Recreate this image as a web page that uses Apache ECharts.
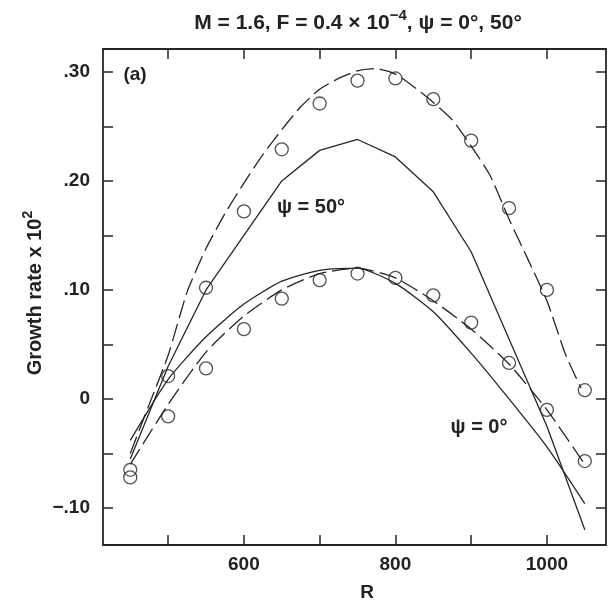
<!DOCTYPE html>
<html>
<head>
<meta charset="utf-8">
<script src="https://cdn.jsdelivr.net/npm/echarts@6/dist/echarts.min.js"></script>
<style>
html,body{margin:0;padding:0;background:#fff;}
#chart{width:608px;height:603px;}
</style>
</head>
<body>
<div id="chart"></div>
<script>
// ---- data ----
const circleR = [450, 500, 550, 600, 650, 700, 750, 800, 850, 900, 950, 1000, 1050];
const circles50 = [-0.065, 0.021, 0.102, 0.172, 0.229, 0.271, 0.292, 0.294, 0.275, 0.237, 0.175, 0.100, 0.008];
const circles0 = [-0.072, -0.016, 0.028, 0.064, 0.092, 0.109, 0.115, 0.111, 0.095, 0.070, 0.033, -0.010, -0.057];

const dash50R = [450, 475, 500, 525, 550, 575, 600, 625, 650, 675, 700, 725, 750, 775, 800, 825, 850, 875, 900, 925, 950, 975, 1000, 1025, 1045];
const dash50 = [-0.050, -0.005, 0.040, 0.098, 0.138, 0.170, 0.198, 0.224, 0.247, 0.268, 0.284, 0.294, 0.301, 0.303, 0.298, 0.286, 0.272, 0.256, 0.232, 0.205, 0.165, 0.128, 0.090, 0.040, 0.010];

const solidR = [450, 500, 550, 600, 650, 700, 750, 800, 850, 900, 950, 1000, 1050];
const solid50 = [-0.055, 0.030, 0.100, 0.150, 0.200, 0.228, 0.238, 0.222, 0.190, 0.135, 0.055, -0.025, -0.120];
const solid0 = [-0.038, 0.018, 0.057, 0.087, 0.108, 0.118, 0.120, 0.106, 0.080, 0.042, 0.000, -0.044, -0.096];

const dash0R = [450, 500, 550, 600, 650, 700, 750, 800, 850, 900, 950, 1000, 1050];
const dash0 = [-0.060, -0.005, 0.043, 0.076, 0.100, 0.115, 0.120, 0.111, 0.090, 0.064, 0.032, -0.010, -0.060];

const xTicks = [500, 600, 700, 800, 900, 1000];
const xTickLabels = [600, 800, 1000];
const yTicks = [-0.10, -0.05, 0, 0.05, 0.10, 0.15, 0.20, 0.25, 0.30];
const yTickLabels = [-0.10, 0, 0.10, 0.20, 0.30];

const titleText = ['M = 1.6, F = 0.4 \u00d7 10', '\u22124', ', \u03c8 = 0\u00b0, 50\u00b0'];
const yName = ['Growth rate x 10', '2'];
const annotations = ['(a)', '\u03c8 = 50\u00b0', '\u03c8 = 0\u00b0', 'R'];

// ---- build ----
const zip = (xs, ys) => xs.map((x, i) => [x, ys[i]]);
const INK = '#262626';
const FONT = '"Liberation Sans", Arial, Helvetica, sans-serif';

function yFmt(v) {
  if (Math.abs(v) < 1e-9) return '0';
  const s = '.' + String(Math.round(Math.abs(v) * 100)).padStart(2, '0');
  return v < 0 ? '\u2212' + s : s;
}

const axisLine = { show: true, onZero: false, lineStyle: { color: INK, width: 1.8 } };
const tickStyle = { color: INK, width: 1.5 };

const chart = echarts.init(document.getElementById('chart'));
const option = {
  animation: false,
  backgroundColor: '#ffffff',
  grid: { left: 103, right: 2, top: 49, bottom: 58 },
  xAxis: [
    { type: 'value', min: 414, max: 1078, position: 'bottom',
      axisLine: axisLine,
      axisTick: { show: true, inside: true, length: 10, customValues: xTicks, lineStyle: tickStyle },
      axisLabel: { show: true, customValues: xTickLabels, formatter: v => String(v), margin: 10, color: '#222', fontSize: 19, fontWeight: 'bold', fontFamily: FONT },
      splitLine: { show: false } },
    { type: 'value', min: 414, max: 1078, position: 'top',
      axisLine: axisLine,
      axisTick: { show: true, inside: true, length: 10, customValues: xTicks, lineStyle: tickStyle },
      axisLabel: { show: false },
      splitLine: { show: false } }
  ],
  yAxis: [
    { type: 'value', min: -0.134, max: 0.321, position: 'left',
      axisLine: axisLine,
      axisTick: { show: true, inside: true, length: 10, customValues: yTicks, lineStyle: tickStyle },
      axisLabel: { show: true, customValues: yTickLabels, formatter: yFmt, margin: 13, color: '#222', fontSize: 19, fontWeight: 'bold', fontFamily: FONT },
      splitLine: { show: false } },
    { type: 'value', min: -0.134, max: 0.321, position: 'right',
      axisLine: axisLine,
      axisTick: { show: true, inside: true, length: 10, customValues: yTicks, lineStyle: tickStyle },
      axisLabel: { show: false },
      splitLine: { show: false } }
  ],
  series: [
    { type: 'line', name: 'dash50', data: zip(dash50R, dash50), showSymbol: false, smooth: 0.2,
      lineStyle: { color: INK, width: 1.3, type: [18, 6] } },
    { type: 'line', name: 'solid50', data: zip(solidR, solid50), showSymbol: false,
      lineStyle: { color: INK, width: 1.3 } },
    { type: 'line', name: 'solid0', data: zip(solidR, solid0), showSymbol: false, smooth: 0.2,
      lineStyle: { color: INK, width: 1.3 } },
    { type: 'line', name: 'dash0', data: zip(dash0R, dash0), showSymbol: false, smooth: 0.2,
      lineStyle: { color: INK, width: 1.3, type: [18, 6] } },
    { type: 'scatter', name: 'c50', data: zip(circleR, circles50), symbol: 'circle', symbolSize: 13,
      itemStyle: { color: 'rgba(0,0,0,0)', borderColor: INK, borderWidth: 1.3 } },
    { type: 'scatter', name: 'c0', data: zip(circleR, circles0), symbol: 'circle', symbolSize: 13,
      itemStyle: { color: 'rgba(0,0,0,0)', borderColor: INK, borderWidth: 1.3 } }
  ],
  graphic: [
    { type: 'text', x: 358, y: 21,
      style: { text: '{a|' + titleText[0] + '}{b|' + titleText[1] + '}{a|' + titleText[2] + '}',
        align: 'center', verticalAlign: 'middle', fill: '#222',
        rich: {
          a: { fontSize: 21, fontWeight: 'bold', fontFamily: FONT, lineHeight: 25, verticalAlign: 'bottom', fill: '#222' },
          b: { fontSize: 15, fontWeight: 'bold', fontFamily: FONT, lineHeight: 15, verticalAlign: 'top', fill: '#222' }
        } } },
    { type: 'text', x: 33, y: 293, rotation: Math.PI / 2,
      style: { text: '{a|' + yName[0] + '}{b|' + yName[1] + '}',
        align: 'center', verticalAlign: 'middle', fill: '#222',
        rich: {
          a: { fontSize: 20, fontWeight: 'bold', fontFamily: FONT, lineHeight: 24, verticalAlign: 'bottom', fill: '#222' },
          b: { fontSize: 14, fontWeight: 'bold', fontFamily: FONT, lineHeight: 14, verticalAlign: 'top', fill: '#222' }
        } } },
    { type: 'text', x: 135, y: 75,
      style: { text: annotations[0], align: 'center', verticalAlign: 'middle', fill: '#222', font: 'bold 19px ' + FONT } },
    { type: 'text', x: 311, y: 207,
      style: { text: annotations[1], align: 'center', verticalAlign: 'middle', fill: '#222', font: 'bold 20px ' + FONT } },
    { type: 'text', x: 479, y: 427,
      style: { text: annotations[2], align: 'center', verticalAlign: 'middle', fill: '#222', font: 'bold 20px ' + FONT } },
    { type: 'text', x: 367, y: 593,
      style: { text: annotations[3], align: 'center', verticalAlign: 'middle', fill: '#222', font: 'bold 19px ' + FONT } }
  ]
};
chart.setOption(option);
</script>
</body>
</html>
